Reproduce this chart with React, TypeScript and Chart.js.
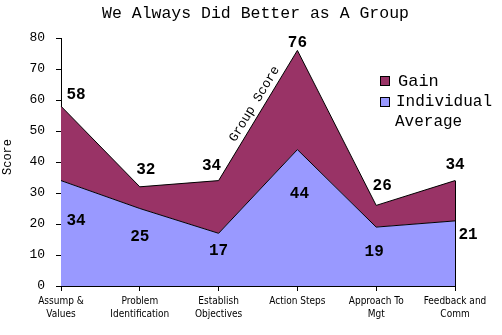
import React, { useEffect, useRef } from "react";
import { Chart, registerables } from "chart.js";

Chart.register(...registerables);

const categories: string[][] = [
  ["Assump &", "Values"],
  ["Problem", "Identification"],
  ["Establish", "Objectives"],
  ["Action Steps"],
  ["Approach To", "Mgt"],
  ["Feedback and", "Comm"],
];
const individualAverage = [34, 25, 17, 44, 19, 21];
const groupScore = [58, 32, 34, 76, 26, 34];
const gain = groupScore.map((g, i) => g - individualAverage[i]);
const yTicks = { min: 0, max: 80, step: 10 };

// label offsets (px) relative to the point they annotate
const groupLabelDx = [15, 6, -7, 0, 6, 0];
const groupLabelDy = [-11, -17, -15, -7, -19, -16];
const indivLabelDx = [15, 0, 0, 2, -2, 13];
const indivLabelDy = [40, 28, 18, 44, 25, 14];

const MONO = "'Liberation Mono', 'Courier New', monospace";
const GAIN_COLOR = "#993366";
const INDIV_COLOR = "#9999FF";

const overlay = {
  id: "overlay",
  afterDatasetsDraw(chart: any) {
    const ctx = chart.ctx;
    const xs = chart.scales.x;
    const ys = chart.scales.y;
    const area = chart.chartArea;
    ctx.save();
    // right edge outline
    const lastX = xs.getPixelForValue(categories.length - 1);
    ctx.strokeStyle = "#000";
    ctx.lineWidth = 1;
    ctx.beginPath();
    ctx.moveTo(Math.round(lastX) + 0.5, ys.getPixelForValue(groupScore[groupScore.length - 1]));
    ctx.lineTo(Math.round(lastX) + 0.5, area.bottom);
    ctx.stroke();

    // title
    ctx.fillStyle = "#000";
    ctx.textAlign = "center";
    ctx.textBaseline = "middle";
    ctx.font = `16.5px ${MONO}`;
    ctx.fillText("We Always Did Better as A Group", 255.5, 14);

    // y axis title
    ctx.save();
    ctx.translate(8, 157);
    ctx.rotate(-Math.PI / 2);
    ctx.font = `12px ${MONO}`;
    ctx.fillText("Score", 0, 0);
    ctx.restore();

    // data labels
    ctx.font = `bold 16px ${MONO}`;
    groupScore.forEach((v, i) => {
      const x = xs.getPixelForValue(i) + groupLabelDx[i];
      const y = ys.getPixelForValue(v) + groupLabelDy[i];
      ctx.fillText(String(v), x, y);
    });
    individualAverage.forEach((v, i) => {
      const x = xs.getPixelForValue(i) + indivLabelDx[i];
      const y = ys.getPixelForValue(v) + indivLabelDy[i];
      ctx.fillText(String(v), x, y);
    });

    // "Group Score" along the rising line
    const x1 = xs.getPixelForValue(2), y1 = ys.getPixelForValue(groupScore[2]);
    const x2 = xs.getPixelForValue(3), y2 = ys.getPixelForValue(groupScore[3]);
    const len = Math.hypot(x2 - x1, y2 - y1);
    const ux = (x2 - x1) / len, uy = (y2 - y1) / len;
    const nx = uy, ny = -ux; // normal toward upper-left
    const mx = (x1 + x2) / 2 + ux * 8 + nx * 9;
    const my = (y1 + y2) / 2 + uy * 8 + ny * 9;
    ctx.save();
    ctx.translate(mx, my);
    ctx.rotate(Math.atan2(y2 - y1, x2 - x1));
    ctx.font = `13px ${MONO}`;
    ctx.fillText("Group Score", 0, 0);
    ctx.restore();

    // legend
    ctx.textAlign = "left";
    ctx.fillStyle = GAIN_COLOR;
    ctx.fillRect(380.5, 76.5, 9, 9);
    ctx.strokeStyle = "#000";
    ctx.strokeRect(380.5, 76.5, 9, 9);
    ctx.fillStyle = INDIV_COLOR;
    ctx.fillRect(380.5, 97.5, 9, 9);
    ctx.strokeRect(380.5, 97.5, 9, 9);
    ctx.fillStyle = "#000";
    ctx.font = `17px ${MONO}`;
    ctx.fillText("Gain", 398, 81);
    ctx.font = `16px ${MONO}`;
    ctx.fillText("Individual", 396, 102);
    ctx.fillText("Average", 395, 122);
    ctx.restore();
  },
};

export default function App() {
  const canvasRef = useRef<HTMLCanvasElement | null>(null);
  useEffect(() => {
    document.body.style.margin = "0";
    const canvas = canvasRef.current;
    if (!canvas) return;
    const chart = new Chart(canvas, {
      type: "line",
      data: {
        labels: categories,
        datasets: [
          {
            label: "Individual Average",
            data: individualAverage,
            backgroundColor: INDIV_COLOR,
            borderColor: "#000",
            borderWidth: 1,
            fill: "origin",
            pointRadius: 0,
            tension: 0,
          },
          {
            label: "Gain",
            data: gain,
            backgroundColor: GAIN_COLOR,
            borderColor: "#000",
            borderWidth: 1,
            fill: "-1",
            pointRadius: 0,
            tension: 0,
          },
        ],
      },
      options: {
        responsive: false,
        animation: false,
        devicePixelRatio: 1,
        layout: { padding: { top: 38, right: 47, left: 0, bottom: 0 } },
        plugins: {
          legend: { display: false },
          title: { display: false },
          tooltip: { enabled: false },
        },
        scales: {
          x: {
            offset: false,
            grid: { display: true, drawOnChartArea: false, tickLength: 5, color: "#000", offset: false },
            border: { display: true, color: "#000", width: 1 },
            ticks: {
              color: "#000",
              maxRotation: 0,
              autoSkip: false,
              padding: 4,
              font: { family: "'Liberation Sans Narrow', 'DejaVu Sans Condensed', sans-serif", size: 10, lineHeight: 1.3 },
            },
            afterFit: (s: any) => { s.height = 49; },
          },
          y: {
            stacked: true,
            min: yTicks.min,
            max: yTicks.max,
            grid: { display: true, drawOnChartArea: false, tickLength: 5, color: "#000" },
            border: { display: true, color: "#000", width: 1 },
            ticks: {
              stepSize: yTicks.step,
              color: "#000",
              padding: 11,
              font: { family: MONO, size: 13 },
            },
            afterFit: (s: any) => { s.width = 61; },
          },
        },
      },
      plugins: [overlay],
    });
    return () => chart.destroy();
  }, []);
  return <canvas ref={canvasRef} width={502} height={335} style={{ display: "block" }} />;
}
